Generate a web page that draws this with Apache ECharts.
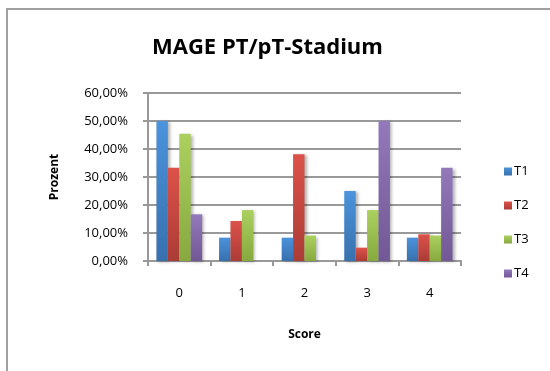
<!DOCTYPE html>
<html><head><meta charset="utf-8">
<script src="https://cdn.jsdelivr.net/npm/echarts@6/dist/echarts.min.js"></script>
<style>html,body{margin:0;padding:0;background:#fff}#c{width:550px;height:371px}</style>
</head><body><div id="c"></div>
<script>
var categories = ['0', '1', '2', '3', '4'];
var seriesNames = ['T1', 'T2', 'T3', 'T4'];
var t1 = [50.00, 8.33, 8.33, 25.00, 8.33];
var t2 = [33.33, 14.29, 38.10, 4.76, 9.52];
var t3 = [45.45, 18.18, 9.09, 18.18, 9.09];
var t4 = [16.67, 0, 0, 50.00, 33.33];
var yTicks = [0, 10, 20, 30, 40, 50, 60];

var FONT = 'Open Sans';
function grad(top, bottom) {
  return new echarts.graphic.LinearGradient(0, 0, 0, 1, [{offset: 0, color: top}, {offset: 1, color: bottom}]);
}
var colors = [
  grad('#4b93dc', '#3870ad'),
  grad('#dc524a', '#ab3c36'),
  grad('#abd05f', '#87a93f'),
  grad('#9378bb', '#735896')
];
var data = [t1, t2, t3, t4];
var series = seriesNames.map(function (n, i) {
  return {
    name: n, type: 'bar', data: data[i], barGap: '0%', barCategoryGap: '27%',
    itemStyle: {color: colors[i], shadowBlur: 3, shadowOffsetX: 2, shadowOffsetY: 1, shadowColor: 'rgba(0,0,0,0.3)'}
  };
});
var chart = echarts.init(document.getElementById('c'), null, {renderer: 'canvas'});
chart.setOption({
  animation: false,
  backgroundColor: '#fff',
  textStyle: {fontFamily: FONT},
  title: {text: 'MAGE PT/pT-Stadium', top: 37, left: 152, padding: 0,
    textStyle: {fontFamily: FONT, fontWeight: 'bold', fontSize: 22, color: '#000'}},
  legend: {
    orient: 'vertical', left: 499, top: 160, itemWidth: 8, itemHeight: 8, itemGap: 21, icon: 'rect',
    textStyle: {fontFamily: FONT, fontSize: 13, color: '#000', padding: [0, 0, 0, -3]},
    data: seriesNames
  },
  grid: {left: 148, right: 89, top: 93, bottom: 110, containLabel: false},
  xAxis: {
    type: 'category', data: categories,
    name: 'Score', nameLocation: 'middle', nameGap: 68,
    nameTextStyle: {fontFamily: FONT, fontWeight: 'bold', fontSize: 12, color: '#000'},
    axisLine: {lineStyle: {color: '#999', width: 2}},
    axisTick: {show: true, length: 5, lineStyle: {color: '#999', width: 2}},
    axisLabel: {color: '#000', fontSize: 13, margin: 26, fontFamily: FONT}
  },
  yAxis: {
    type: 'value', min: 0, max: 60, interval: 10,
    name: 'Prozent', nameLocation: 'middle', nameGap: 87, nameRotate: 90,
    nameTextStyle: {fontFamily: FONT, fontWeight: 'bold', fontSize: 12, color: '#000'},
    axisLine: {show: true, lineStyle: {color: '#999', width: 2}},
    axisTick: {show: true, length: 5, lineStyle: {color: '#999', width: 2}},
    splitLine: {lineStyle: {color: '#999', width: 2}},
    axisLabel: {color: '#000', fontSize: 13, margin: 20, fontFamily: FONT,
      formatter: function (v) { return v.toFixed(2).replace('.', ',') + '%'; }}
  },
  graphic: [{type: 'rect', shape: {x: 7, y: 9, width: 620, height: 420}, style: {fill: 'none', stroke: '#a0a0a0', lineWidth: 2}, z: 100}],
  series: series
});
</script></body></html>
